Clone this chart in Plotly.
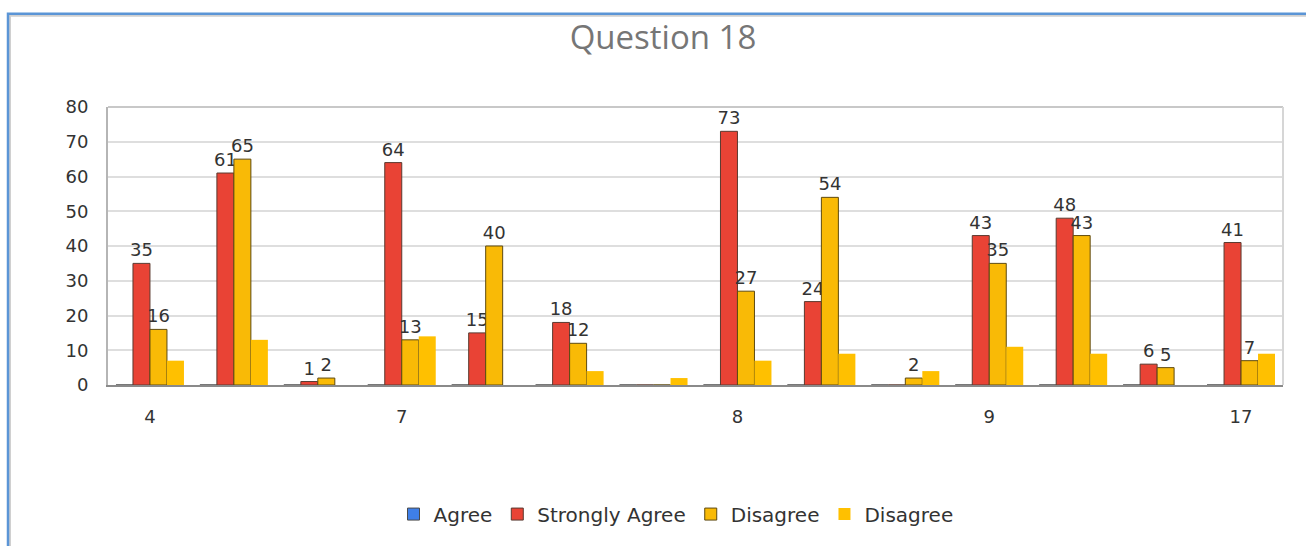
import plotly.graph_objects as go

# Tick labels for the 14 response groups (only some groups carry a label)
categories = ["4", "", "", "7", "", "", "", "8", "", "", "9", "", "", "17"]
positions = list(range(len(categories)))

agree = [0, 0, 0, 0, 0, 0, 0, 0, 0, 0, 0, 0, 0, 0]
strongly_agree = [35, 61, 1, 64, 15, 18, 0, 73, 24, 0, 43, 48, 6, 41]
disagree_a = [16, 65, 2, 13, 40, 12, 0, 27, 54, 2, 35, 43, 5, 7]
disagree_b = [7, 13, 0, 14, 0, 4, 2, 7, 9, 4, 11, 9, 0, 9]

FONT = "DejaVu Sans"
TITLE_FONT = "Open Sans"
W, H = 1306, 546
L, R, T, B = 108, 23, 107, 159


def labels(vals):
    return [str(v) if v > 0 else "" for v in vals]


label_font = dict(family=FONT, size=18, color="#333333")

fig = go.Figure()
fig.add_trace(go.Bar(
    x=positions, y=agree, name="Agree",
    marker=dict(color="#3F7FE8", line=dict(color="#4a4a4a", width=1)),
))
fig.add_trace(go.Bar(
    x=positions, y=strongly_agree, name="Strongly Agree",
    marker=dict(color="#E94335", line=dict(color="#5a3a30", width=1)),
    text=labels(strongly_agree), textposition="outside",
    textfont=label_font, constraintext="none",
    cliponaxis=False,
))
fig.add_trace(go.Bar(
    x=positions, y=disagree_a, name="Disagree",
    marker=dict(color="#F9BA06", line=dict(color="#5e4a10", width=1)),
    text=labels(disagree_a), textposition="outside",
    textfont=label_font, constraintext="none",
    cliponaxis=False,
))
fig.add_trace(go.Bar(
    x=positions, y=disagree_b, name="Disagree",
    marker=dict(color="#FFC000", line=dict(width=0)),
))

plot_w = W - L - R
plot_h = H - T - B

fig.update_layout(
    width=W, height=H,
    margin=dict(l=L, r=R, t=T, b=B),
    paper_bgcolor="white", plot_bgcolor="white",
    barmode="group", bargap=0.19, bargroupgap=0.0,
    font=dict(family=FONT, color="#333333"),
    title=dict(
        text="Question 18", xref="container", x=663 / W, xanchor="center",
        yref="container", y=1 - 37 / H, yanchor="middle",
        font=dict(family=TITLE_FONT, size=33, color="#767676"),
    ),
    legend=dict(
        orientation="h", xref="paper", yref="paper",
        x=(676 - L) / plot_w, xanchor="center",
        y=(H - B - 517) / plot_h, yanchor="middle",
        font=dict(family=FONT, size=20, color="#333333"),
        itemwidth=30, tracegroupgap=0,
    ),
    xaxis=dict(
        range=[-0.5, len(categories) - 0.5],
        tickmode="array", tickvals=positions, ticktext=categories,
        showgrid=False, zeroline=False,
        showline=True, linecolor="#8a8a8a", linewidth=2,
        ticks="", ticklabelstandoff=14,
        tickfont=dict(family=FONT, size=18, color="#333333"),
    ),
    yaxis=dict(
        range=[0, 80], dtick=10, tick0=0,
        showgrid=True, gridcolor="#dedede", gridwidth=2,
        zeroline=False,
        showline=True, linecolor="#b5b5b5", linewidth=2,
        ticks="", ticklabelstandoff=14,
        tickfont=dict(family=FONT, size=18, color="#333333"),
    ),
    shapes=[
        # plot-area frame on top and right
        dict(type="line", xref="paper", yref="paper", x0=0, x1=1, y0=1, y1=1,
             line=dict(color="#c8c8c8", width=2)),
        dict(type="line", xref="paper", yref="paper", x0=1, x1=1, y0=0, y1=1,
             line=dict(color="#d6d6d6", width=2)),
        # outer chart border (blue, with a soft gray inner edge)
        dict(type="rect", xref="paper", yref="paper",
             x0=(10 - L) / plot_w, x1=1.2,
             y0=-1.0, y1=(H - B - 15) / plot_h,
             line=dict(color="#d0d0d0", width=2)),
        dict(type="rect", xref="paper", yref="paper",
             x0=(8 - L) / plot_w, x1=1.2,
             y0=-1.0, y1=(H - B - 13) / plot_h,
             line=dict(color="#5B95D6", width=2.5)),
    ],
)

fig.write_html("out.html")
